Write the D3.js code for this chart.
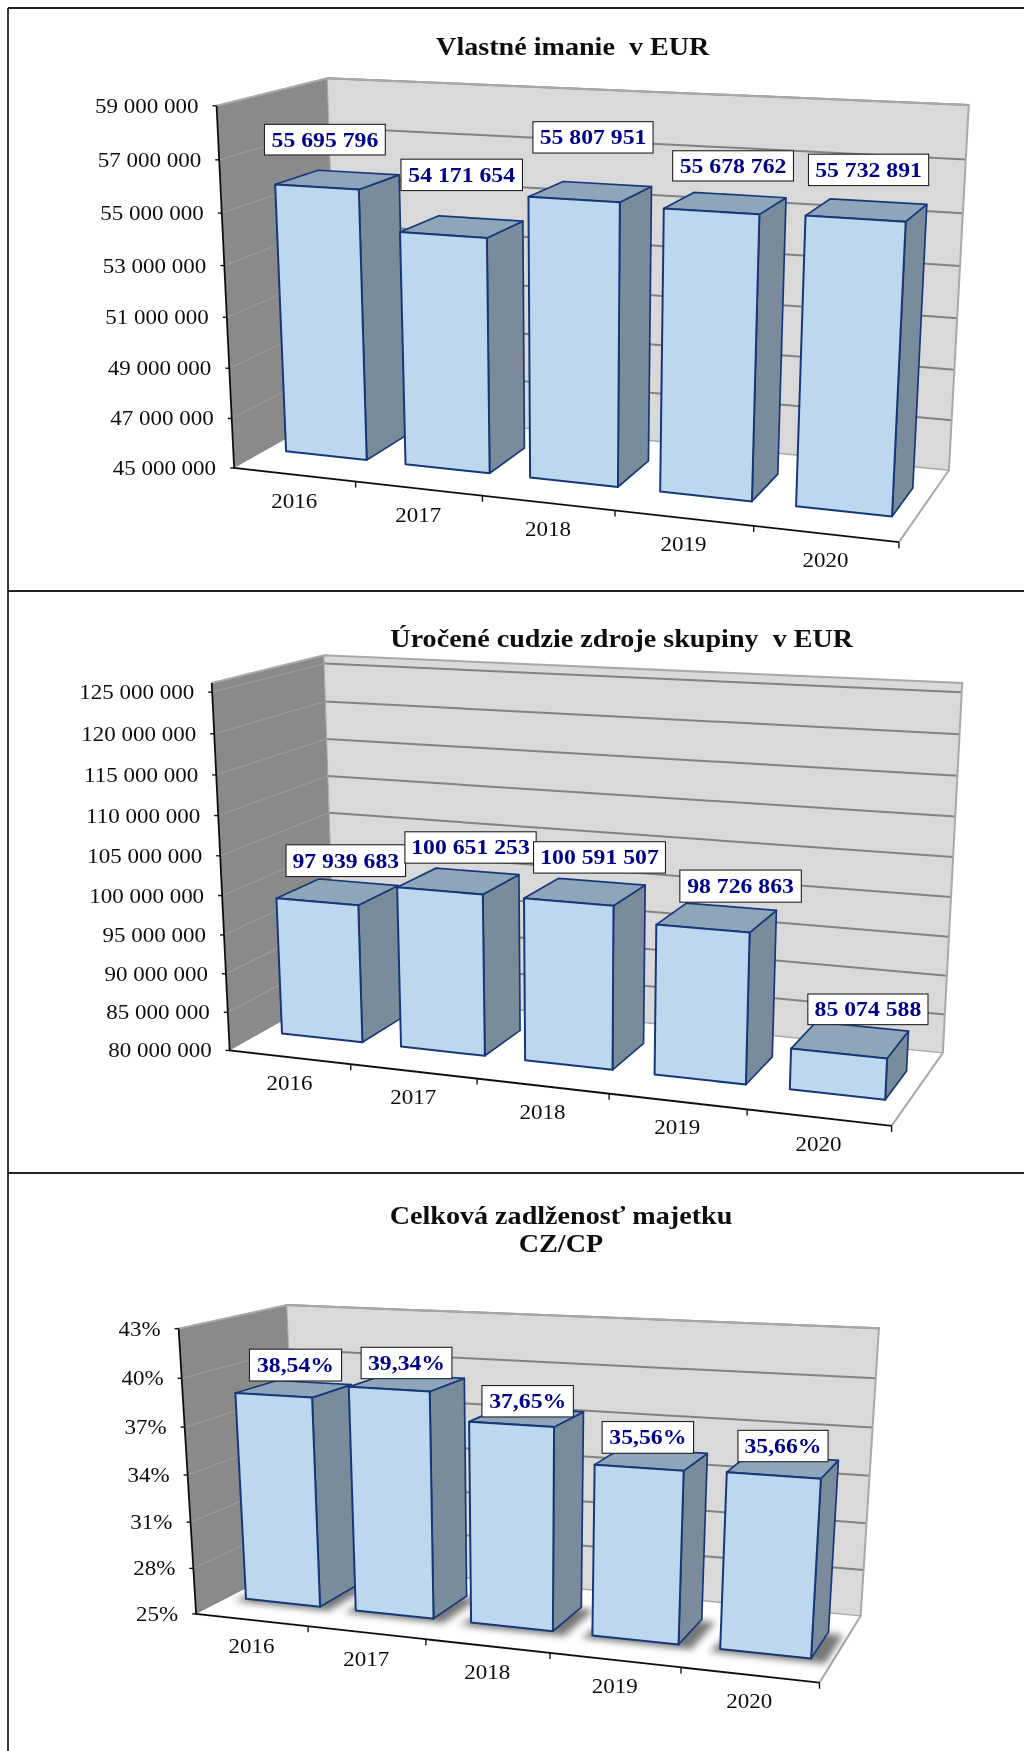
<!DOCTYPE html>
<html><head><meta charset="utf-8">
<style>html,body{margin:0;padding:0;background:#fff}svg{display:block}text{font-family:"Liberation Serif","Times New Roman",serif;white-space:pre}</style>
<script src="https://cdn.jsdelivr.net/npm/d3@7/dist/d3.min.js"></script>
</head><body><svg id="c" width="1024" height="1751"></svg>
<script>
const years = ["2016","2017","2018","2019","2020"];
const equityValues = [55695796,54171654,55807951,55678762,55732891];
const equityTicks = [45e6,47e6,49e6,51e6,53e6,55e6,57e6,59e6];
const debtValues = [97939683,100651253,100591507,98726863,85074588];
const debtTicks = [80e6,85e6,90e6,95e6,100e6,105e6,110e6,115e6,120e6,125e6];
const ratioValues = [38.54,39.34,37.65,35.56,35.66];
const ratioTicks = [25,28,31,34,37,40,43];

const loc = d3.formatLocale({decimal:",",thousands:" ",grouping:[3],currency:["",""]});
const fmtInt = loc.format(",d");
const fmtPct = d => loc.format(".2f")(d)+"%";
const fmtTickPct = d => d+"%";

// calibration coordinates are measured on a 1568-square view of each 1024x600 page region
const KX = 1024/1568, KY = 600/1568;

const charts = [
 {y0:0, values:equityValues, ticks:equityTicks, domain:[45e6,59e6], fmt:fmtInt, tickFmt:fmtInt, shadow:false,
  titles:[{t:"Vlastné imanie  v EUR",x:877,y:143}],
  left:[278,420,556,695,829,962,1092,1220], leftX:[330,334,340,343,347,350,355,360],
  right:[275,420,557,693,828,962,1095,1222], rightX:[1483,1478,1474,1470,1466,1462,1457,1452],
  back:[203,330,456,582,708,834,960,1086], backX:[507,508,509,509,510,511,512,513],
  top:null,
  front:[[360,1220],[545,1256],[739,1295],[942,1335],[1155,1378],[1376,1420]],
  boxes:[[405,590,325,405],[614,800,416,498],[816,1000,318,400],[1030,1215,394,473],[1238,1422,403,485]]},
 {y0:580, values:debtValues, ticks:debtTicks, domain:[80e6,126.1e6], fmt:fmtInt, tickFmt:fmtInt, shadow:false,
  titles:[{t:"Úročené cudzie zdroje skupiny  v EUR",x:952,y:175}],
  left:[293,404,511,617,720,824,926,1028,1128,1226], leftX:[324,327,330,333,336,340,343,346,350,353],
  right:[293,403,512,618,722,826,930,1031,1132,1232], rightX:[1472,1469,1466,1463,1460,1456,1453,1450,1447,1443],
  back:[218,318,415,510,605,700,795,895,990,1090], backX:[501,502,503,504,505,505,506,506,507,507],
  top:{left:[322,270], back:[500,198], right:[1473,270]},
  front:[[353,1226],[538,1264],[732,1305],[934,1345],[1143,1387],[1365,1428]],
  boxes:[[438,621,692,775],[620,821,658,740],[817,1019,684,766],[1041,1227,758,842],[1237,1421,1082,1162]]},
 {y0:1151, values:ratioValues, ticks:ratioTicks, domain:[25,43], fmt:fmtPct, tickFmt:fmtTickPct, shadow:true,
  titles:[{t:"Celková zadlženosť majetku",x:859,y:190},{t:"CZ/CP",x:859,y:265}],
  left:[465,598,723,847,966,1086,1207], leftX:[273,276,282,287,291,296,302],
  right:[466,597,722,847,968,1087,1205], rightX:[1345,1340,1336,1332,1328,1323,1316],
  back:[398,513,629,745,860,976,1092], backX:[445,446,447,448,449,449,450],
  top:null,
  front:[[302,1207],[472,1240],[653,1277],[842,1316],[1043,1352],[1255,1392]],
  boxes:[[382,523,518,601],[553,692,513,595],[738,878,613,695],[922,1062,707,790],[1130,1268,730,812]]}
];

const BAR = {pad:0.16, wFront:0.3, wBack:0.7};
const C = {left:"#8a8a8a", back:"#d9d9d9", grid:"#828282", gridL:"#9a9a9a", edge:"#a8a8a8",
  front:"#bdd7ee", top:"#8fa5ba", side:"#7a8b9b", stroke:"#17397a", label:"#00008b"};

function solve(A,b){
  const n=b.length, M=A.map((r,i)=>[...r,b[i]]);
  for(let i=0;i<n;i++){
    let p=i; for(let r=i+1;r<n;r++) if(Math.abs(M[r][i])>Math.abs(M[p][i])) p=r;
    [M[i],M[p]]=[M[p],M[i]];
    for(let r=0;r<n;r++){ if(r===i) continue; const f=M[r][i]/M[i][i];
      for(let c=i;c<=n;c++) M[r][c]-=f*M[i][c]; }
  }
  return M.map((r,i)=>r[n]/r[i]);
}
function fitProjection(pts){ // pts: [u,v,w,sx,sy]
  const rows=[],rhs=[];
  pts.forEach(([u,v,w,x,y])=>{ x/=1000;y/=1000;
    rows.push([u,v,w,1,0,0,0,0,-x*u,-x*v,-x*w]); rhs.push(x);
    rows.push([0,0,0,0,u,v,w,1,-y*u,-y*v,-y*w]); rhs.push(y);
  });
  const AtA=d3.range(11).map(i=>d3.range(11).map(j=>d3.sum(rows,r=>r[i]*r[j])));
  const Atb=d3.range(11).map(i=>d3.sum(rows,(r,k)=>r[i]*rhs[k]));
  const h=solve(AtA,Atb);
  return (u,v,w)=>{ const d=h[8]*u+h[9]*v+h[10]*w+1;
    return [1000*(h[0]*u+h[1]*v+h[2]*w+h[3])/d, 1000*(h[4]*u+h[5]*v+h[6]*w+h[7])/d]; };
}

const svg=d3.select("#c");
const defs=svg.append("defs");
defs.append("filter").attr("id","shadowBlur").attr("x","-30%").attr("y","-80%").attr("width","160%").attr("height","260%")
  .append("feGaussianBlur").attr("stdDeviation",3.5);
defs.append("filter").attr("id","soft").append("feGaussianBlur").attr("stdDeviation",0.35);

// panel frame
const frame=svg.append("g").attr("stroke","#222").attr("stroke-width",1.8);
[[8,8,1024,8],[8,8,8,1751],[8,591,1024,591],[8,1173,1024,1173]].forEach(l=>
  frame.append("line").attr("x1",l[0]).attr("y1",l[1]).attr("x2",l[2]).attr("y2",l[3]));

function txt(g,s,x,y,o){
  return g.append("text").text(s).attr("transform",`translate(${x},${y}) scale(${o.sx||1.15},1)`)
    .attr("text-anchor",o.anchor||"middle").attr("font-size",o.size||20)
    .attr("font-weight",o.weight||"normal").attr("fill",o.fill||"#111");
}

charts.forEach(ch=>{
  const g=svg.append("g").attr("filter","url(#soft)");
  const pg=([x,y])=>[x*KX,ch.y0+y*KY];
  const vScale=d3.scaleLinear().domain(ch.domain).range([0,1]);
  const uScale=d3.scaleBand().domain(years).range([0,1]);
  const pts=[];
  [...ch.ticks].reverse().forEach((t,i)=>{
    const v=vScale(t), fl=[0,v,0,...pg([ch.leftX[i],ch.left[i]])];
    pts.push(fl,fl,fl);
    pts.push([1,v,1,...pg([ch.rightX[i],ch.right[i]])]);
    pts.push([0,v,1,...pg([ch.backX[i],ch.back[i]])]);
  });
  ch.front.forEach((p,i)=>{ const f=[i/5,0,0,...pg(p)]; pts.push(f,f,f); });
  if(ch.top){ pts.push([0,1,0,...pg(ch.top.left)],[0,1,1,...pg(ch.top.back)],[1,1,1,...pg(ch.top.right)]); }
  const P=fitProjection(pts);
  const line=d3.line();
  const poly=(arr,fill,stroke,sw)=>g.append("path").attr("d",line(arr)+"Z").attr("fill",fill)
    .attr("stroke",stroke||"none").attr("stroke-width",sw||0).attr("stroke-linejoin","round");

  // walls
  poly([P(0,0,0),P(0,1,0),P(0,1,1),P(0,0,1)],C.left);
  poly([P(0,0,1),P(0,1,1),P(1,1,1),P(1,0,1)],C.back);
  // gridlines
  ch.ticks.forEach(t=>{ const v=vScale(t);
    if(v===0) return;
    g.append("path").attr("d",line([P(0,v,0),P(0,v,1)])).attr("fill","none").attr("stroke",C.gridL).attr("stroke-width",1.3);
    g.append("path").attr("d",line([P(0,v,1),P(1,v,1)])).attr("fill","none").attr("stroke",C.grid).attr("stroke-width",2);
  });
  // wall edges
  g.append("path").attr("d",line([P(0,1,0),P(0,1,1),P(1,1,1),P(1,0,1),P(1,0,0)])).attr("fill","none").attr("stroke",C.edge).attr("stroke-width",2);
  g.append("path").attr("d",line([P(0,0,1),P(1,0,1)])).attr("fill","none").attr("stroke",C.edge).attr("stroke-width",1.4);
  g.append("path").attr("d",line([P(0,0,1),P(0,1,1)])).attr("fill","none").attr("stroke",C.edge).attr("stroke-width",1);

  // axes
  g.append("path").attr("d",line([P(0,1,0),P(0,0,0),P(1,0,0)])).attr("fill","none").attr("stroke","#111").attr("stroke-width",1.8);
  ch.ticks.forEach(t=>{ const [x,y]=P(0,vScale(t),0);
    g.append("line").attr("x1",x-4).attr("y1",y).attr("x2",x).attr("y2",y).attr("stroke","#111").attr("stroke-width",1.4);
    txt(g,ch.tickFmt(t),x-18,y+7,{anchor:"end"});
  });
  years.forEach((yr,i)=>{
    const [tx,ty]=P((i+1)/5,0,0);
    g.append("line").attr("x1",tx).attr("y1",ty).attr("x2",tx).attr("y2",ty+6).attr("stroke","#111").attr("stroke-width",1.4);
    const [lx,ly]=P(uScale(yr)+uScale.bandwidth()/2,0,0);
    txt(g,yr,lx,ly+33,{});
  });

  // bars
  const bw=uScale.bandwidth();
  ch.values.forEach((val,i)=>{
    const u0=uScale(years[i])+bw*BAR.pad, u1=uScale(years[i])+bw*(1-BAR.pad);
    const w0=BAR.wFront, w1=BAR.wBack, v=vScale(val);
    if(ch.shadow){
      g.append("path").attr("d",line([P(u0-0.012,0,w0-0.05),P(u1+0.024,0,w0-0.05),P(u1+0.024,0,w1-0.02),P(u0,0,w1-0.02)])+"Z")
       .attr("fill","#555").attr("opacity",0.8).attr("filter","url(#shadowBlur)");
    }
    poly([P(u1,0,w0),P(u1,0,w1),P(u1,v,w1),P(u1,v,w0)],C.side,C.stroke,1.7);
    poly([P(u0,v,w0),P(u1,v,w0),P(u1,v,w1),P(u0,v,w1)],C.top,C.stroke,1.7);
    poly([P(u0,0,w0),P(u1,0,w0),P(u1,v,w0),P(u0,v,w0)],C.front,C.stroke,2);
  });
  // labels
  ch.values.forEach((val,i)=>{
    const [a,b,c,d]=ch.boxes[i], [x0,y0]=pg([a,c]), [x1,y1]=pg([b,d]);
    g.append("rect").attr("x",x0).attr("y",y0).attr("width",x1-x0).attr("height",y1-y0)
      .attr("fill","#fff").attr("stroke","#222").attr("stroke-width",1.1);
    txt(g,ch.fmt(val),(x0+x1)/2,(y0+y1)/2+7,{weight:"bold",fill:C.label,size:21,sx:1.13});
  });
  // titles
  ch.titles.forEach(t=>{ const [x,y]=pg([t.x,t.y]);
    txt(g,t.t,x,y,{weight:"bold",size:25,sx:1.125,fill:"#111"});
  });
});
</script></body></html>
